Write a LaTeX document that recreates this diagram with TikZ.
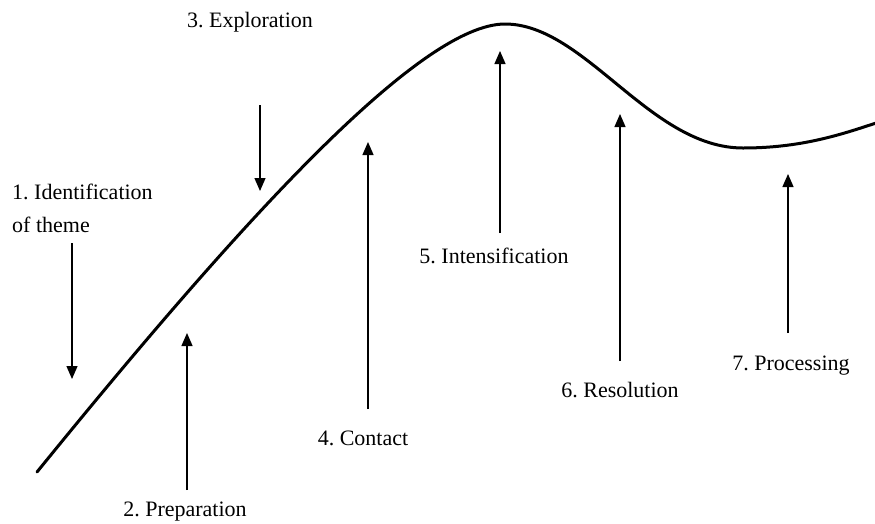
\documentclass[tikz,border=0pt]{standalone}
\usepackage{fontspec}
\setmainfont{Liberation Serif}
\usetikzlibrary{arrows.meta}
\begin{document}
\frenchspacing
\begin{tikzpicture}[x=1pt,y=-1pt,
  lbl/.style={inner sep=0pt,font=\fontsize{22}{33}\selectfont},
  stage/.style={line width=1.3pt,-{Triangle[length=13pt,width=11pt]}},
  curve/.style={line width=3pt,line cap=round}]
\useasboundingbox (0,0) rectangle (875,523);
% curve
\draw[curve] (37,472) .. controls (240,222) and (420,24) .. (505,24)
  .. controls (585,24) and (650,148) .. (743,148)
  .. controls (800,148) and (840,135) .. (876,123);
% labels
\node[lbl,anchor=north west,align=left] (l1) at (12,184) {1. Identification\\of theme};
\node[lbl] (l2) at (185,512) {2. Preparation};
\node[lbl] (l3) at (250,22) {3. Exploration};
\node[lbl] (l4) at (363,438) {4. Contact};
\node[lbl] (l5) at (494,256) {5. Intensification};
\node[lbl] (l6) at (620,390) {6. Resolution};
\node[lbl] (l7) at (791,366) {7. Processing};
% arrow ends
\coordinate (a1s) at (72,243); \coordinate (a1e) at (72,379);
\coordinate (a2s) at (187,490); \coordinate (a2e) at (187,333);
\coordinate (a3s) at (260,105); \coordinate (a3e) at (260,191);
\coordinate (a4s) at (368,409); \coordinate (a4e) at (368,142);
\coordinate (a5s) at (500,233); \coordinate (a5e) at (500,51);
\coordinate (a6s) at (620,361); \coordinate (a6e) at (620,114);
\coordinate (a7s) at (788,333); \coordinate (a7e) at (788,174);
\foreach \i in {1,...,7} \draw[stage] (a\i s) -- (a\i e);
\end{tikzpicture}
\end{document}
